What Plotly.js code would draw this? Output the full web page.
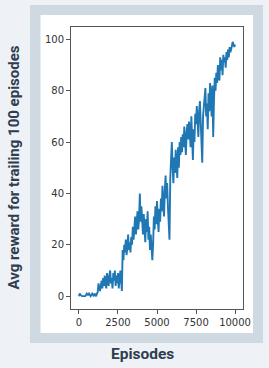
<!DOCTYPE html>
<html>
<head>
<meta charset="utf-8">
<script src="https://cdn.plot.ly/plotly-3.0.1.min.js"></script>
<style>
html,body{margin:0;padding:0;background:#eef2f6;}
#chart{width:269px;height:368px;}
</style>
</head>
<body>
<div id="chart"></div>
<script>
// Episodes sampled every 50 (0 .. 10000)
const episodeStep = 50;
const rewardValues = [
  0,1,0.5,0,0,0,0,0,0,0.5,1,0.5,0.5,1,0,0,0.5,1,0.5,0,
  1,0.5,0,1,1.5,5,3,2,4,6,3,7,4,8,5,3,9,6,4,8,
  10,5,7,3,9,6,10,4,8,5,9,3,7,10,6,2,18,14,20,17,
  22,16,19,24,18,21,17,23,20,27,22,26,31,24,28,33,26,30,40,29,
  35,28,24,32,26,21,30,25,33,22,27,18,24,16,14,20,31,26,35,28,
  37,30,25,34,29,38,33,43,36,31,41,47,38,44,35,29,22,46,52,60,
  50,44,54,48,57,52,46,58,50,60,55,62,56,63,58,66,60,55,64,67,
  61,68,64,58,70,63,53,65,60,71,67,74,66,62,72,76,68,58,52,70,
  73,78,81,70,75,65,79,72,83,77,70,82,62,76,85,80,87,83,90,85,
  84,93,88,92,86,94,91,93,89,95,92,96,93,97,95,96,97,99,98,97,
  98
];
const episodes = rewardValues.map((_, i) => i * episodeStep);

const xTickVals = [0, 2500, 5000, 7500, 10000];
const xTickText = ["0", "2500", "5000", "7500", "10000"];
const yTickVals = [0, 20, 40, 60, 80, 100];
const yTickText = ["0", "20", "40", "60", "80", "100"];

const xTitle = "Episodes";
const yTitle = "Avg reward for trailing 100 episodes";

// layout geometry (pixels)
const W = 269, H = 368;
const M = {l: 71, r: 26, t: 27, b: 59};
const PW = W - M.l - M.r, PH = H - M.t - M.b;
const px = x => (x - M.l) / PW;
const py = y => (H - M.b - y) / PH;

const titleColor = "#2e3d4f";
const axisStyle = {
  showgrid: false, zeroline: false,
  showline: true, linecolor: "#555", linewidth: 1, mirror: true,
  ticks: "outside", ticklen: 4, tickwidth: 1, tickcolor: "#555",
  tickfont: {family: "DejaVu Sans", size: 10, color: "#333"},
  fixedrange: true
};

const trace = {
  x: episodes, y: rewardValues, type: "scatter", mode: "lines",
  line: {color: "#1f77b4", width: 1.9}, hoverinfo: "skip"
};

const layout = {
  width: W, height: H,
  margin: {l: M.l, r: M.r, t: M.t, b: M.b, pad: 0},
  paper_bgcolor: "#eef2f6",
  plot_bgcolor: "#ffffff",
  showlegend: false,
  xaxis: Object.assign({}, axisStyle, {
    range: [-510, 10510], tickmode: "array", tickvals: xTickVals, ticktext: xTickText
  }),
  yaxis: Object.assign({}, axisStyle, {
    range: [-5, 104.8], tickmode: "array", tickvals: yTickVals, ticktext: yTickText
  }),
  shapes: [
    {type: "rect", xref: "paper", yref: "paper", layer: "below",
     x0: px(30), x1: px(263), y0: py(343), y1: py(5),
     fillcolor: "#cfd9e1", line: {width: 0}},
    {type: "rect", xref: "paper", yref: "paper", layer: "below",
     x0: px(40.5), x1: px(253), y0: py(333), y1: py(15),
     fillcolor: "#ffffff", line: {width: 0}}
  ],
  annotations: [
    {text: "<b>" + yTitle + "</b>", xref: "paper", yref: "paper",
     x: px(13.5), y: py(168), xanchor: "center", yanchor: "middle",
     textangle: -90, showarrow: false,
     font: {family: "Roboto", size: 15, color: titleColor}},
    {text: "<b>" + xTitle + "</b>", xref: "paper", yref: "paper",
     x: px(142), y: py(354), xanchor: "center", yanchor: "middle",
     showarrow: false,
     font: {family: "Roboto", size: 15.5, color: titleColor}}
  ]
};

Plotly.newPlot("chart", [trace], layout, {staticPlot: true, displayModeBar: false});
</script>
</body>
</html>
